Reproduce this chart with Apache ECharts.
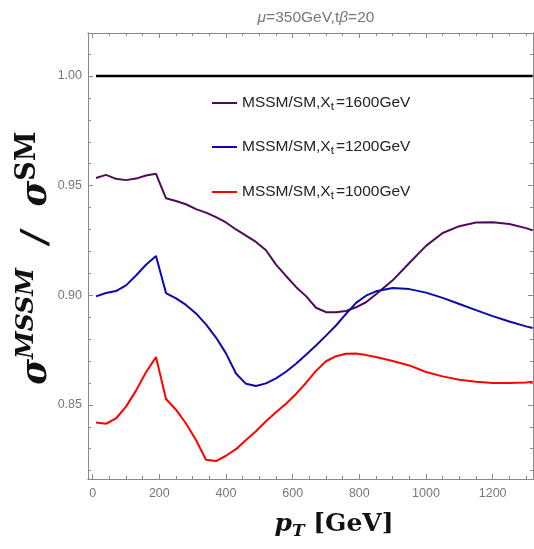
<!DOCTYPE html>
<html>
<head>
<meta charset="utf-8">
<script src="https://cdn.jsdelivr.net/npm/echarts@6/dist/echarts.min.js"></script>
<style>html,body{margin:0;padding:0;background:#fff}#c{width:534px;height:549px}</style>
</head>
<body>
<div id="c"></div>
<script>
const pT = [10,40,70,100,130,160,190,220,250,280,310,340,370,400,430,460,490,520,550,580,610,640,670,700,730,760,790,820,850,900,950,1000,1050,1100,1150,1200,1250,1300,1320];
const xt1600 = [0.9535,0.9549,0.9531,0.9525,0.9532,0.9546,0.9554,0.9442,0.9430,0.9415,0.9393,0.9377,0.9356,0.9332,0.9300,0.9272,0.9243,0.9205,0.9140,0.9088,0.9038,0.8996,0.8943,0.8923,0.8922,0.8928,0.8945,0.8968,0.9005,0.9068,0.9147,0.9225,0.9284,0.9315,0.9332,0.9333,0.9325,0.9306,0.9296];
const xt1200 = [0.8995,0.9010,0.9019,0.9045,0.9090,0.9139,0.9179,0.9010,0.8986,0.8956,0.8917,0.8867,0.8807,0.8735,0.8643,0.8596,0.8586,0.8598,0.8621,0.8651,0.8688,0.8729,0.8771,0.8816,0.8862,0.8915,0.8965,0.8998,0.9018,0.9033,0.9028,0.9012,0.8988,0.8960,0.8932,0.8905,0.8880,0.8858,0.8851];
const xt1000 = [0.8420,0.8414,0.8438,0.8492,0.8565,0.8649,0.8718,0.8527,0.8478,0.8415,0.8340,0.8250,0.8244,0.8268,0.8298,0.8340,0.8380,0.8425,0.8466,0.8505,0.8550,0.8600,0.8655,0.8699,0.8722,0.8733,0.8734,0.8727,0.8718,0.8700,0.8680,0.8650,0.8630,0.8615,0.8605,0.8600,0.8600,0.8602,0.8606];
const smRatio = [1.0, 1.0];
const smX = [10, 1320];
const xMajor = [0,200,400,600,800,1000,1200];
const xMinor = [0,50,100,150,200,250,300,350,400,450,500,550,600,650,700,750,800,850,900,950,1000,1050,1100,1150,1200,1250,1300];
const yMajor = [0.85,0.90,0.95,1.00];
const yMinor = [0.82,0.83,0.84,0.85,0.86,0.87,0.88,0.89,0.90,0.91,0.92,0.93,0.94,0.95,0.96,0.97,0.98,0.99,1.00,1.01];
const names = ['MSSM/SM,X_t=1600GeV','MSSM/SM,X_t=1200GeV','MSSM/SM,X_t=1000GeV'];
const colors = ['#500a5c','#0a0aaa','#ff0000'];

const XMIN=-14, XMAX=1321, YMIN=0.8162, YMAX=1.0196;
const axisCol = '#8a8a8a';
function zip(xs, ys){ return xs.map((x,i)=>[x, ys[i]]); }

function xAx(pos, ticks, len, labels){
  return {type:'value', min:XMIN, max:XMAX, position:pos,
    axisLine:{show:true, onZero:false, lineStyle:{color:axisCol, width:1}},
    axisTick:{show:true, inside:true, length:len, customValues:ticks, lineStyle:{color:axisCol}},
    axisLabel:{show:labels, customValues:xMajor, color:'#777', fontSize:12.5, fontFamily:'Liberation Sans', margin:8,
      formatter:v=>String(v)},
    splitLine:{show:false}};
}
function yAx(pos, ticks, len, labels){
  return {type:'value', min:YMIN, max:YMAX, position:pos,
    axisLine:{show:true, onZero:false, lineStyle:{color:axisCol, width:1}},
    axisTick:{show:true, inside:true, length:len, customValues:ticks, lineStyle:{color:axisCol}},
    axisLabel:{show:labels, customValues:yMajor, color:'#777', fontSize:12.5, fontFamily:'Liberation Sans', margin:6,
      formatter:v=>v.toFixed(2)},
    splitLine:{show:false}};
}

const legendRich = {
  a:{fontSize:15.5, color:'#222', fontFamily:'Liberation Sans', lineHeight:20, verticalAlign:'middle'},
  b:{fontSize:11.5, color:'#222', fontFamily:'Liberation Sans', lineHeight:20, verticalAlign:'bottom', padding:[6,2,0,0]}
};
function legendFmt(n){ const p=n.split('X_t'); return '{a|'+p[0]+'X}{b|t}{a|'+p[1]+'}'; }
const legendTops = [90,134,179];

const chart = echarts.init(document.getElementById('c'));
chart.setOption({
  animation:false,
  title:{text:'{i|μ}{n|=350GeV,t}{i|β}{n|=20}', left:311, top:5, textAlign:'center',
    textStyle:{fontWeight:'normal', rich:{
      i:{fontSize:15.5, color:'#777', fontFamily:'Liberation Sans', fontStyle:'italic', fontWeight:'normal'},
      n:{fontSize:15.5, color:'#777', fontFamily:'Liberation Sans', fontWeight:'normal'}}}},
  grid:{left:88, top:33, right:1, bottom:70, containLabel:false},
  xAxis:[xAx('bottom', xMajor, 5, true), xAx('bottom', xMinor, 3, false), xAx('top', xMajor, 5, false), xAx('top', xMinor, 3, false)],
  yAxis:[yAx('left', yMajor, 5, true), yAx('left', yMinor, 3, false), yAx('right', yMajor, 5, false), yAx('right', yMinor, 3, false)],
  legend: names.map((n,i)=>({
    data:[n], left:207, top:legendTops[i], itemWidth:25, itemHeight:2, itemGap:10, icon:'rect',
    formatter:legendFmt, textStyle:{rich:legendRich}, selectedMode:false
  })),
  series:[
    {type:'line', data:zip(smX, smRatio), showSymbol:false, lineStyle:{color:'#000', width:2.5}, itemStyle:{color:'#000'}, silent:true},
    ...names.map((n,i)=>({
      name:n, type:'line', data:zip(pT, [xt1600,xt1200,xt1000][i]), showSymbol:false,
      lineStyle:{color:colors[i], width:2}, itemStyle:{color:colors[i]}
    }))
  ],
  graphic:[
    {type:'text', x:34, y:258, rotation:Math.PI/2,
      style:{text:'{s|σ}{u|MSSM}{s|  /  σ}{v|SM}', align:'center', verticalAlign:'middle',
        rich:{
          s:{fontSize:35, fontFamily:'DejaVu Serif', fontWeight:'bold', fontStyle:'italic', fill:'#111', lineHeight:40, verticalAlign:'bottom'},
          u:{fontSize:25, fontFamily:'DejaVu Serif', fontWeight:'bold', fontStyle:'italic', fill:'#111', lineHeight:40, verticalAlign:'top'},
          v:{fontSize:27, fontFamily:'DejaVu Serif', fontWeight:'bold', fill:'#111', lineHeight:40, verticalAlign:'top'}
        }}},
    {type:'text', x:334, y:524,
      style:{text:'{p|p}{t|T}{g| [GeV]}', align:'center', verticalAlign:'middle',
        rich:{
          p:{fontSize:25, fontFamily:'DejaVu Serif', fontWeight:'bold', fontStyle:'italic', fill:'#111', lineHeight:32, verticalAlign:'middle'},
          t:{fontSize:17, fontFamily:'DejaVu Serif', fontWeight:'bold', fontStyle:'italic', fill:'#111', lineHeight:32, verticalAlign:'bottom', padding:[8,0,0,0]},
          g:{fontSize:25, fontFamily:'DejaVu Serif', fontWeight:'bold', fill:'#111', lineHeight:32, verticalAlign:'middle'}
        }}}
  ]
});
</script>
</body>
</html>
